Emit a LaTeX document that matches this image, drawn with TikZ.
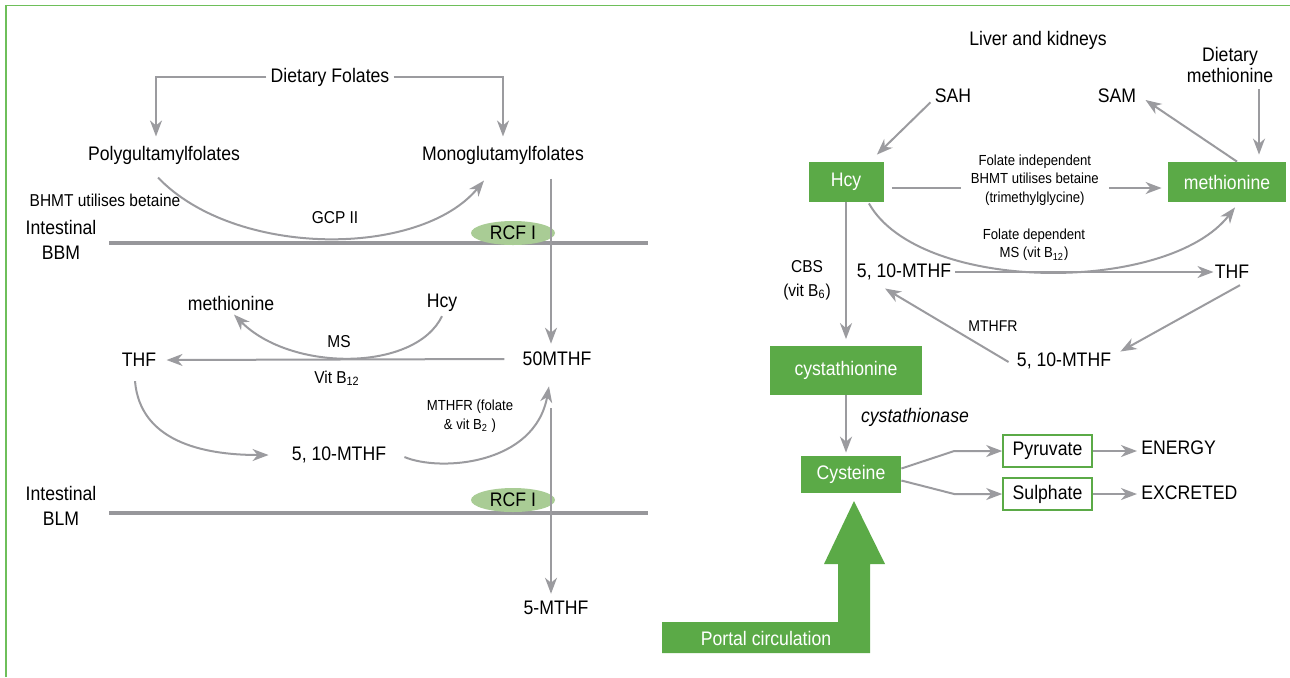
\documentclass[tikz,border=0pt]{standalone}
\usepackage{fontspec}
\setmainfont{Liberation Sans}[FakeStretch=0.9]
\usepackage{tikz}
\usetikzlibrary{arrows.meta}
\usetikzlibrary{shapes.geometric}
\usetikzlibrary{calc}
\definecolor{arrgray}{HTML}{9B9B9F}
\definecolor{memgray}{HTML}{97979B}
\definecolor{boxgreen}{HTML}{5BAA47}
\definecolor{rcfgreen}{HTML}{A9CC95}
\definecolor{framegreen}{HTML}{6EBF5A}
\newcommand{\mainsz}{\fontsize{9.8}{12}\selectfont}
\newcommand{\midsz}{\fontsize{8.6}{11}\selectfont}
\newcommand{\smallsz}{\fontsize{7.3}{9.3}\selectfont}

\begin{document}
\begin{tikzpicture}[x=0.5pt, y=-0.5pt,
    txt/.style={inner sep=2pt, font=\mainsz},
    lbl/.style={inner sep=2pt, font=\midsz},
    note/.style={inner sep=2pt, font=\smallsz, align=center},
    gbox/.style={fill=boxgreen, text=white, inner sep=0pt, font=\mainsz},
    obox/.style={draw=boxgreen, line width=0.8pt, fill=white, minimum width=44.5pt,
        minimum height=16pt, inner sep=0pt, font=\mainsz},
    rcf/.style={ellipse, fill=rcfgreen, minimum width=42pt, minimum height=12pt,
        inner sep=0pt, font=\mainsz},
    arr/.style={draw=arrgray, line width=1pt, -{Stealth[length=8pt, width=6pt, inset=2.5pt]}},
    membrane/.style={draw=memgray, line width=2.2pt}]

    \useasboundingbox (0,0) rectangle (1290,677);
    \draw[framegreen, line width=0.8pt] (6,677) -- (6,5.5) -- (1290,5.5);

    % intestine
    \node[txt] (df) at (330,77) {Dietary Folates};
    \node[txt] (poly) at (164,155) {Polygultamylfolates};
    \node[txt] (mono) at (503,155) {Monoglutamylfolates};
    \node[lbl] (bhmt) at (105,200) {BHMT utilises betaine};
    \node[lbl] (gcp) at (335,218) {GCP II};
    \node[txt, align=center, font=\fontsize{9.8}{12.5}\selectfont] (bbm) at (61,240) {Intestinal\\BBM};
    \draw[membrane] (109,243) -- (648,243);
    \node[rcf] (rcfa) at (513,233) {RCF I};

    \node[txt] (metL) at (231,303) {methionine};
    \node[txt] (hcyL) at (442,303) {Hcy};
    \node[lbl] (ms) at (339,342) {MS};
    \node[txt] (thfL) at (139,360) {THF};
    \node[txt] (m50) at (557,359) {50MTHF};
    \node[lbl] (vitb) at (337,378) {Vit B\textsubscript{12}};
    \node[note, font=\fontsize{7.3}{9.5}\selectfont] (mthfrL) at (470,416) {MTHFR (folate\\\& vit B\textsubscript{2} )};
    \node[txt] (m510L) at (339,455) {5, 10-MTHF};
    \node[txt, align=center, font=\fontsize{9.8}{12.5}\selectfont] (blm) at (61,506) {Intestinal\\BLM};
    \draw[membrane] (109,513) -- (648,513);
    \node[rcf] (rcfb) at (513,500) {RCF I};
    \node[txt] (m5) at (556,608) {5-MTHF};

    \draw[arr, shorten >=2.5pt] (df.west) -| ([xshift=-4pt]poly.north);
    \draw[arr, shorten >=2.5pt] (df.east) -| (mono.north);
    \draw[arr] ($(poly.south)+(-6,9)$) .. controls (235,258) and (420,258) .. ($(mono.south)+(-19,12)$);
    \draw[arr] ($(mono.south)+(48,10)$) -- ($(m50.north)+(-6,-4)$);
    \draw[arr] ($(m50.west)+(-14,0)$) -- ($(thfL.east)+(6,0)$);
    \draw[arr] (hcyL.south) .. controls (415,372) and (291,372) .. ($(metL.south)+(3,0)$);
    \draw[arr] ($(thfL.south)+(-4,10)$) .. controls (140,440) and (200,455) .. ($(m510L.west)+(-19,0)$);
    \draw[arr] ($(m510L.east)+(14,2)$) .. controls (440,472) and (535,465) .. ($(m50.south)+(-8,16)$);
    \draw[arr] ($(m50.south)+(-6,38)$) -- ($(m5.north)+(-5,-3)$);

    % liver and kidneys
    \node[txt] (liver) at (1038,40) {Liver and kidneys};
    \node[txt, align=center, font=\fontsize{9.8}{10.5}\selectfont] (dmet) at (1230,65) {Dietary\\methionine};
    \node[txt] (sah) at (953,96) {SAH};
    \node[txt] (sam) at (1117,96) {SAM};
    \node[gbox, minimum width=37.5pt, minimum height=20pt] (hcyR) at (846,182) {Hcy};
    \node[gbox, minimum width=59pt, minimum height=20pt] (metR) at (1227,182) {methionine};
    \node[note, font=\fontsize{7.3}{9}\selectfont] (fdep) at (1034,245) {Folate dependent\\MS (vit B\textsubscript{12})};
    \node[txt] (m510a) at (904,272) {5, 10-MTHF};
    \node[txt] (thfR) at (1232,272) {THF};
    \node[lbl, align=center, font=\fontsize{8.6}{12}\selectfont] (cbs) at (807,280) {CBS\\(vit B\textsubscript{6})};
    \node[lbl, font=\fontsize{7.8}{9}\selectfont] (mthfrR) at (993,326) {MTHFR};
    \node[txt] (m510b) at (1064,361) {5, 10-MTHF};
    \node[gbox, minimum width=76pt, minimum height=24.5pt] (cysta) at (846,370) {cystathionine};
    \node[txt, font=\mainsz\itshape] (cyase) at (915,417) {cystathionase};
    \node[gbox, minimum width=50pt, minimum height=18.5pt] (cyst) at (851,474.5) {Cysteine};
    \node[obox] (pyr) at (1047.5,451) {Pyruvate};
    \node[obox] (sul) at (1047.5,494) {Sulphate};
    \node[txt, anchor=west] (energy) at (1137,448) {ENERGY};
    \node[txt, anchor=west] (excr) at (1137,493) {EXCRETED};

    \draw[arr] ($(sah.south west)+(0,-5)$) -- ($(hcyR.north east)+(-7,-7)$);
    \draw[arr] ($(metR.north)+(10,0)$) -- ($(sam.east)+(5,4)$);
    \draw[arr] ($(dmet.south)+(29,2)$) -- ($(metR.north)+(32,-7)$);
    \draw[arr] ($(hcyR.east)+(8,6)$) -- node[note, fill=white, inner xsep=5pt, yshift=4pt, pos=0.53,
        font=\fontsize{7.3}{9.25}\selectfont] (findep) {Folate independent\\BHMT utilises betaine\\(trimethylglycine)}
        ($(metR.west)+(-6,6)$);
    \draw[arr] ($(hcyR.south east)+(-15,1)$) .. controls (920,294) and (1168,294) .. ($(metR.south)+(8,5)$);
    \draw[arr] (m510a.east) -- ($(thfR.west)+(3,0)$);
    \draw[arr] ($(thfR.south)+(8,2)$) -- ($(m510b.north east)+(5,3)$);
    \draw[arr] ($(m510b.west)+(-4,1)$) -- ($(m510a.south)+(-19,4)$);
    \draw[arr, shorten >=3pt] (hcyR.south) -- (cysta.north);
    \draw[arr] (cysta.south) -- ($(cyst.north)+(-5,-3)$);
    \draw[arr] ([yshift=3pt]cyst.east) -- ([xshift=-24pt]pyr.west) -- (pyr.west);
    \draw[arr] ([yshift=-3pt]cyst.east) -- ([xshift=-24pt]sul.west) -- (sul.west);
    \draw[arr] (pyr.east) -- (pyr.east -| energy.west);
    \draw[arr] (sul.east) -- (sul.east -| excr.west);

    % portal circulation
    \fill[boxgreen] (662,622) -- (838,622) -- (838,564) -- (824,564) -- (854,501) -- (885,564)
        -- (870,564) -- (870,653) -- (662,653) -- cycle;
    \node[txt, text=white] (portal) at (766,638) {Portal circulation};

\end{tikzpicture}
\end{document}
